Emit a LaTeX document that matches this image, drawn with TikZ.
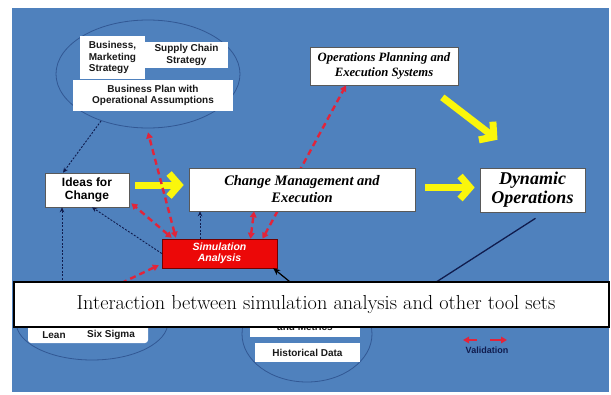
\documentclass[tikz,border=0pt]{standalone}
\usepackage{fontspec}
\newfontfamily\timesfont{Liberation Serif}
\newfontfamily\arialfont{Liberation Sans}
\usetikzlibrary{arrows.meta,shapes.geometric}

\definecolor{slideblue}{RGB}{79,129,189}
\definecolor{ringblue}{RGB}{50,88,148}
\definecolor{dashred}{RGB}{226,36,58}
\definecolor{simred}{RGB}{236,8,8}
\definecolor{navyline}{RGB}{16,28,78}
\definecolor{bigyellow}{RGB}{250,246,12}

\begin{document}
\begin{tikzpicture}[x=1pt,y=-1pt,
    whitebox/.style={draw=black!65,fill=white,line width=0.6pt,inner sep=0pt,align=center},
    plainbox/.style={fill=white,inner sep=0pt,align=center},
    ring/.style={ellipse,draw=ringblue,line width=0.8pt,inner sep=0pt},
    smallsans/.style={font=\arialfont\bfseries\fontsize{10}{11.5}\selectfont,text=black!90,inner sep=0pt},
    redlink/.style={draw=dashred,line width=2.4pt,dash pattern=on 6pt off 4pt,{Triangle[length=6pt,width=6.5pt]}-{Triangle[length=6pt,width=6.5pt]}},
    navylink/.style={draw=navyline,line width=0.9pt,dash pattern=on 2pt off 1.5pt,-{Stealth[length=5pt,width=4.5pt]}},
    bigarrow/.style={draw=bigyellow,line width=7pt,-{Straight Barb[length=10pt,width=23pt]}}
]
\def\SERIFBI{\timesfont\bfseries\itshape}
\useasboundingbox (0,0) rectangle (611,394);
\fill[white] (0,0) rectangle (611,394);
\fill[slideblue] (12,8) rectangle (609,392);

% strategy ring
\node[ring,minimum width=184pt,minimum height=108pt] (topell) at (148,74) {};
\node[plainbox,smallsans,minimum width=65pt,minimum height=43pt,align=left] (bizmkt) at (112.5,57.5) {Business,\\Marketing\\Strategy};
\node[plainbox,smallsans,minimum width=83pt,minimum height=26pt] (supply) at (186.5,55) {Supply Chain\\Strategy};
\node[plainbox,smallsans,minimum width=160pt,minimum height=31pt] (bizplan) at (153,95.5) {Business Plan with\\Operational Assumptions};

\node[whitebox,font=\SERIFBI\fontsize{12.7}{15}\selectfont,minimum width=148pt,minimum height=38pt] (opplan) at (384,66) {Operations Planning and\\Execution Systems};
\node[draw=red!45!black,fill=simred,text=white,font=\arialfont\bfseries\itshape\fontsize{10.5}{10.5}\selectfont,minimum width=115pt,minimum height=29pt,inner sep=0pt,align=center] (sim) at (219.5,253.5) {Simulation\\Analysis};

% this one runs behind the change box
\draw[redlink] ([xshift=43pt]sim.north) -- ([xshift=-38pt]opplan.south);

\node[whitebox,font=\arialfont\bfseries\fontsize{12}{12.5}\selectfont,minimum width=84pt,minimum height=34pt] (ideas) at (87,190) {Ideas for\\Change};
\node[whitebox,font=\SERIFBI\fontsize{14.5}{17}\selectfont,minimum width=226pt,minimum height=43pt] (change) at (302,189.5) {Change Management and\\Execution};
\node[whitebox,font=\SERIFBI\fontsize{18}{19}\selectfont,minimum width=105pt,minimum height=44pt] (dynop) at (532.5,190) {Dynamic\\Operations};

% bottom rings
\node[ring,minimum width=152pt,minimum height=76pt] (leanell) at (92,322) {};
\node[plainbox,rounded corners=3pt,minimum width=120pt,minimum height=40pt] (leanbox) at (88,323) {};
\node[smallsans] (lean) at (54,335) {Lean};
\node[smallsans] (sixsigma) at (111,335) {Six Sigma};

\node[ring,minimum width=130pt,minimum height=96pt] (dataell) at (307,334) {};
\node[plainbox,minimum width=110pt,minimum height=37pt] (metrics) at (305,318.5) {};
\node[smallsans] (metricstxt) at (305,327) {and Metrics};
\node[plainbox,smallsans,minimum width=105pt,minimum height=19pt] (history) at (307.5,352.5) {Historical Data};

\coordinate (leantop) at (62,290);
\coordinate (leanred) at (113,287);
\coordinate (datatop) at (295,286);
\coordinate (dynfoot) at (430,286);

% yellow flow
\draw[bigarrow,shorten <=6pt,shorten >=5pt] ([yshift=5pt]ideas.east) -- ([yshift=5pt]ideas.east -| change.west);
\draw[bigarrow,shorten <=10pt,shorten >=5pt] ([yshift=2pt]change.east) -- ([yshift=2pt]change.east -| dynop.west);
\draw[bigarrow] ([shift={(-16,12)}]opplan.south east) -- ([shift={(-35,-28)}]dynop.north);

% validation links
\draw[redlink] ([shift={(14,-1)}]sim.north west) -- ([yshift=-4pt]topell.south);
\draw[redlink] ([shift={(10,-1)}]sim.north west) -- ([shift={(2,-4)}]ideas.south east);
\draw[redlink] ([xshift=31pt]sim.north) -- ([xshift=-48pt]change.south);
\draw[redlink] ([shift={(-3,-3)}]sim.south west) -- (leanred);

% dotted links
\draw[navylink] (topell.225) -- ([xshift=-24pt]ideas.north);
\draw[navylink] (sim.west) -- ([xshift=5pt]ideas.south);
\draw[navylink] ([xshift=-19.5pt]sim.north) -- ([xshift=-19.5pt]sim.north |- change.south);
\draw[navylink] (leantop) -- (leantop |- ideas.south);

\draw[black,line width=1.2pt,-{Stealth[length=7pt,width=6pt]}] (datatop) -- ([xshift=-4pt]sim.south east);
\draw[navyline,line width=1.3pt] ([shift={(3,6)}]dynop.south) -- (dynfoot);

% legend
\node[smallsans,text=navyline,font=\arialfont\bfseries\fontsize{9}{10}\selectfont] (validation) at (487,350) {Validation};
\draw[dashred,line width=2.4pt,-{Triangle[length=6pt,width=6.5pt]}] ([shift={(-10,-10)}]validation.center) -- ++(-14,0);
\draw[dashred,line width=2.4pt,-{Triangle[length=6pt,width=6.5pt]}] ([shift={(3,-10)}]validation.center) -- ++(17,0);

\node[draw=black,line width=2pt,fill=white,minimum width=595pt,minimum height=45pt,inner sep=0pt,font=\fontsize{20.3}{22}\selectfont] (caption) at (311.5,304.5) {\hspace{9pt}Interaction between simulation analysis and other tool sets};
\end{tikzpicture}
\end{document}
